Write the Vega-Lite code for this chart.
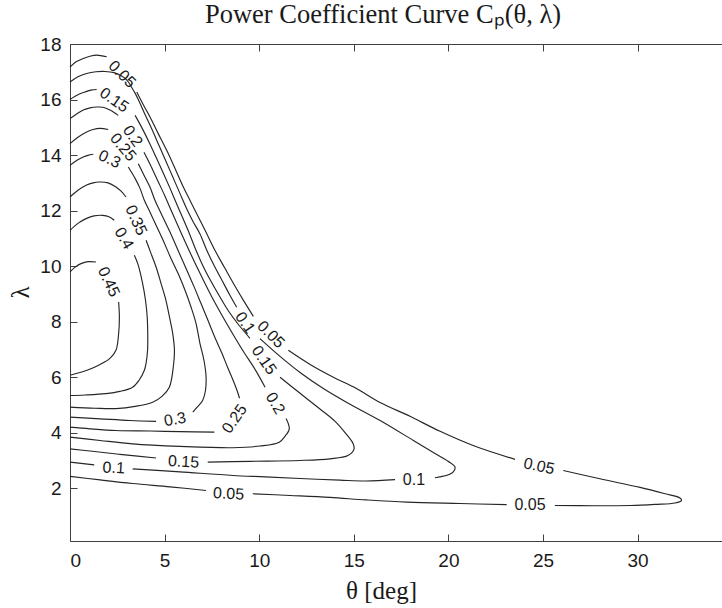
{
"$schema": "https://vega.github.io/schema/vega-lite/v6.json",
"autosize": {"type": "none"},
"padding": {"left": 70, "top": 44, "right": 0, "bottom": 67},
"width": 652,
"height": 497,
"background": "white",
"title": {"text": "Power Coefficient Curve Cₚ(θ, λ)", "font": "Liberation Serif", "fontSize": 26.5, "fontWeight": "normal", "color": "#1a1a1a", "anchor": "middle", "dx": -13, "offset": -14, "baseline": "alphabetic"},
"config": {
 "view": {"stroke": null},
 "axis": {"grid": false, "domainColor": "#404040", "tickColor": "#404040", "domainWidth": 1, "tickWidth": 1, "labelFont": "Liberation Sans", "labelFontSize": 19, "labelColor": "#1a1a1a", "titleFont": "Liberation Serif", "titleFontSize": 25, "titleFontWeight": "normal", "titleColor": "#1a1a1a", "tickSize": -7}
},
"resolve": {"axis": {"x": "independent", "y": "independent"}},
"layer": [
{
 "data": {"values": [
{"s":"05A","i":0,"t":0,"l":17.17},{"s":"05A","i":1,"t":0.32,"l":17.36},{"s":"05A","i":2,"t":0.70,"l":17.48},{"s":"05A","i":3,"t":1.06,"l":17.56},{"s":"05A","i":4,"t":1.41,"l":17.60},{"s":"05A","i":5,"t":1.94,"l":17.54},
{"s":"05B","i":0,"t":3.53,"l":16.27},{"s":"05B","i":1,"t":3.86,"l":15.83},{"s":"05B","i":2,"t":4.23,"l":15.37},{"s":"05B","i":3,"t":4.65,"l":14.79},{"s":"05B","i":4,"t":5.11,"l":14.17},{"s":"05B","i":5,"t":5.55,"l":13.52},{"s":"05B","i":6,"t":5.99,"l":12.85},{"s":"05B","i":7,"t":6.34,"l":12.37},{"s":"05B","i":8,"t":6.71,"l":11.87},{"s":"05B","i":9,"t":7.19,"l":11.22},{"s":"05B","i":10,"t":7.66,"l":10.57},{"s":"05B","i":11,"t":8.19,"l":9.92},{"s":"05B","i":12,"t":8.67,"l":9.34},{"s":"05B","i":13,"t":9.20,"l":8.73},{"s":"05B","i":14,"t":9.69,"l":8.19},
{"s":"05C","i":0,"t":11.54,"l":6.97},{"s":"05C","i":1,"t":12.69,"l":6.46},{"s":"05C","i":2,"t":13.92,"l":6.00},{"s":"05C","i":3,"t":15.12,"l":5.60},{"s":"05C","i":4,"t":16.39,"l":5.09},{"s":"05C","i":5,"t":17.97,"l":4.59},{"s":"05C","i":6,"t":19.56,"l":4.05},{"s":"05C","i":7,"t":21.41,"l":3.51},{"s":"05C","i":8,"t":23.52,"l":3.04},
{"s":"05D","i":0,"t":26.07,"l":2.64},{"s":"05D","i":1,"t":28.01,"l":2.34},{"s":"05D","i":2,"t":30.13,"l":2.03},{"s":"05D","i":3,"t":31.45,"l":1.80},{"s":"05D","i":4,"t":32.24,"l":1.65},{"s":"05D","i":5,"t":32.32,"l":1.56},{"s":"05D","i":6,"t":31.98,"l":1.47},{"s":"05D","i":7,"t":30.92,"l":1.42},{"s":"05D","i":8,"t":29.60,"l":1.38},{"s":"05D","i":9,"t":27.75,"l":1.37},{"s":"05D","i":10,"t":25.63,"l":1.38},
{"s":"05E","i":0,"t":23.08,"l":1.41},{"s":"05E","i":1,"t":20.61,"l":1.45},{"s":"05E","i":2,"t":17.80,"l":1.50},{"s":"05E","i":3,"t":15.65,"l":1.58},{"s":"05E","i":4,"t":13.74,"l":1.67},{"s":"05E","i":5,"t":11.63,"l":1.74},{"s":"05E","i":6,"t":9.66,"l":1.80},
{"s":"05F","i":0,"t":7.19,"l":1.92},{"s":"05F","i":1,"t":5.29,"l":2.05},{"s":"05F","i":2,"t":3.31,"l":2.17},{"s":"05F","i":3,"t":1.59,"l":2.30},{"s":"05F","i":4,"t":0,"l":2.43},
{"s":"10A","i":0,"t":0,"l":16.63},{"s":"10A","i":1,"t":0.42,"l":16.82},{"s":"10A","i":2,"t":0.88,"l":16.94},{"s":"10A","i":3,"t":1.37,"l":17.00},{"s":"10A","i":4,"t":1.85,"l":17.01},{"s":"10A","i":5,"t":2.33,"l":16.97},{"s":"10A","i":6,"t":2.75,"l":16.84},{"s":"10A","i":7,"t":3.01,"l":16.70},{"s":"10A","i":8,"t":3.22,"l":16.48},{"s":"10A","i":9,"t":3.44,"l":16.23},{"s":"10A","i":10,"t":3.65,"l":15.94},{"s":"10A","i":11,"t":3.96,"l":15.47},{"s":"10A","i":12,"t":4.33,"l":14.93},{"s":"10A","i":13,"t":4.70,"l":14.35},{"s":"10A","i":14,"t":5.07,"l":13.78},{"s":"10A","i":15,"t":5.44,"l":13.20},{"s":"10A","i":16,"t":5.81,"l":12.62},{"s":"10A","i":17,"t":6.18,"l":12.05},{"s":"10A","i":18,"t":6.50,"l":11.61},{"s":"10A","i":19,"t":6.87,"l":11.16},{"s":"10A","i":20,"t":7.23,"l":10.57},{"s":"10A","i":21,"t":7.61,"l":10.03},{"s":"10A","i":22,"t":8.03,"l":9.49},{"s":"10A","i":23,"t":8.43,"l":8.98},{"s":"10A","i":24,"t":8.81,"l":8.52},
{"s":"10B","i":0,"t":10.04,"l":7.39},{"s":"10B","i":1,"t":11.10,"l":6.75},{"s":"10B","i":2,"t":12.16,"l":6.17},{"s":"10B","i":3,"t":13.37,"l":5.60},{"s":"10B","i":4,"t":14.63,"l":5.09},{"s":"10B","i":5,"t":16.39,"l":4.44},{"s":"10B","i":6,"t":18.15,"l":3.72},{"s":"10B","i":7,"t":19.29,"l":3.25},{"s":"10B","i":8,"t":19.98,"l":2.97},{"s":"10B","i":9,"t":20.35,"l":2.76},{"s":"10B","i":10,"t":20.19,"l":2.55},{"s":"10B","i":11,"t":19.29,"l":2.38},
{"s":"10C","i":0,"t":17.18,"l":2.31},{"s":"10C","i":1,"t":15.65,"l":2.26},{"s":"10C","i":2,"t":14.27,"l":2.29},{"s":"10C","i":3,"t":12.16,"l":2.35},{"s":"10C","i":4,"t":10.31,"l":2.41},{"s":"10C","i":5,"t":8.60,"l":2.46},{"s":"10C","i":6,"t":5.81,"l":2.59},{"s":"10C","i":7,"t":3.31,"l":2.70},
{"s":"10D","i":0,"t":1.28,"l":2.84},{"s":"10D","i":1,"t":0,"l":2.94},
{"s":"15A","i":0,"t":0,"l":16.00},{"s":"15A","i":1,"t":0.42,"l":16.17},{"s":"15A","i":2,"t":0.79,"l":16.27},{"s":"15A","i":3,"t":1.11,"l":16.34},{"s":"15A","i":4,"t":1.41,"l":16.36},
{"s":"15B","i":0,"t":3.44,"l":15.43},{"s":"15B","i":1,"t":3.81,"l":14.97},{"s":"15B","i":2,"t":4.18,"l":14.46},{"s":"15B","i":3,"t":4.55,"l":13.92},{"s":"15B","i":4,"t":4.94,"l":13.34},{"s":"15B","i":5,"t":5.29,"l":12.80},{"s":"15B","i":6,"t":5.60,"l":12.30},{"s":"15B","i":7,"t":5.92,"l":11.80},{"s":"15B","i":8,"t":6.24,"l":11.29},{"s":"15B","i":9,"t":6.66,"l":10.57},{"s":"15B","i":10,"t":7.14,"l":9.85},{"s":"15B","i":11,"t":7.72,"l":9.13},{"s":"15B","i":12,"t":8.35,"l":8.41},{"s":"15B","i":13,"t":8.93,"l":7.87},{"s":"15B","i":14,"t":9.51,"l":7.40},
{"s":"15C","i":0,"t":11.10,"l":6.00},{"s":"15C","i":1,"t":12.16,"l":5.42},{"s":"15C","i":2,"t":13.18,"l":4.87},{"s":"15C","i":3,"t":14.01,"l":4.41},{"s":"15C","i":4,"t":14.59,"l":3.96},{"s":"15C","i":5,"t":14.96,"l":3.61},{"s":"15C","i":6,"t":15.01,"l":3.40},{"s":"15C","i":7,"t":14.69,"l":3.18},{"s":"15C","i":8,"t":13.74,"l":3.06},{"s":"15C","i":9,"t":12.12,"l":3.00},{"s":"15C","i":10,"t":9.51,"l":2.97},{"s":"15C","i":11,"t":7.28,"l":2.94},
{"s":"15D","i":0,"t":4.55,"l":3.09},{"s":"15D","i":1,"t":2.64,"l":3.22},{"s":"15D","i":2,"t":1.06,"l":3.34},{"s":"15D","i":3,"t":0,"l":3.42},
{"s":"20A","i":0,"t":0,"l":15.32},{"s":"20A","i":1,"t":0.37,"l":15.49},{"s":"20A","i":2,"t":0.70,"l":15.62},{"s":"20A","i":3,"t":1.06,"l":15.70},{"s":"20A","i":4,"t":1.41,"l":15.73},{"s":"20A","i":5,"t":1.74,"l":15.72},{"s":"20A","i":6,"t":2.11,"l":15.62},{"s":"20A","i":7,"t":2.55,"l":15.43},
{"s":"20B","i":0,"t":3.91,"l":14.10},{"s":"20B","i":1,"t":4.28,"l":13.60},{"s":"20B","i":2,"t":4.65,"l":13.06},{"s":"20B","i":3,"t":5.02,"l":12.52},{"s":"20B","i":4,"t":5.39,"l":11.94},{"s":"20B","i":5,"t":5.81,"l":11.29},{"s":"20B","i":6,"t":6.29,"l":10.57},{"s":"20B","i":7,"t":6.87,"l":9.74},{"s":"20B","i":8,"t":7.45,"l":8.95},{"s":"20B","i":9,"t":8.03,"l":8.23},{"s":"20B","i":10,"t":8.62,"l":7.54},{"s":"20B","i":11,"t":9.20,"l":6.89},{"s":"20B","i":12,"t":9.78,"l":6.28},{"s":"20B","i":13,"t":10.31,"l":5.64},
{"s":"20C","i":0,"t":11.42,"l":4.51},{"s":"20C","i":1,"t":11.59,"l":4.14},{"s":"20C","i":2,"t":11.36,"l":3.87},{"s":"20C","i":3,"t":11.06,"l":3.66},{"s":"20C","i":4,"t":10.04,"l":3.52},{"s":"20C","i":5,"t":8.60,"l":3.46},{"s":"20C","i":6,"t":5.81,"l":3.51},{"s":"20C","i":7,"t":3.31,"l":3.60},{"s":"20C","i":8,"t":1.59,"l":3.72},{"s":"20C","i":9,"t":0,"l":3.84},
{"s":"25A","i":0,"t":0,"l":14.41},{"s":"25A","i":1,"t":0.42,"l":14.64},{"s":"25A","i":2,"t":0.88,"l":14.83},{"s":"25A","i":3,"t":1.22,"l":14.92},{"s":"25A","i":4,"t":1.59,"l":14.96},{"s":"25A","i":5,"t":2.02,"l":14.92},
{"s":"25B","i":0,"t":3.61,"l":13.69},{"s":"25B","i":1,"t":3.91,"l":13.27},{"s":"25B","i":2,"t":4.23,"l":12.84},{"s":"25B","i":3,"t":4.49,"l":12.37},{"s":"25B","i":4,"t":4.86,"l":11.83},{"s":"25B","i":5,"t":5.29,"l":11.22},{"s":"25B","i":6,"t":5.71,"l":10.57},{"s":"25B","i":7,"t":6.13,"l":9.92},{"s":"25B","i":8,"t":6.55,"l":9.27},{"s":"25B","i":9,"t":6.92,"l":8.66},{"s":"25B","i":10,"t":7.29,"l":8.05},{"s":"25B","i":11,"t":7.66,"l":7.43},{"s":"25B","i":12,"t":8.03,"l":6.86},{"s":"25B","i":13,"t":8.35,"l":6.32},{"s":"25B","i":14,"t":8.62,"l":5.89},{"s":"25B","i":15,"t":8.83,"l":5.52},{"s":"25B","i":16,"t":8.96,"l":5.24},
{"s":"25C","i":0,"t":7.63,"l":4.02},{"s":"25C","i":1,"t":5.81,"l":4.04},{"s":"25C","i":2,"t":4.23,"l":4.06},{"s":"25C","i":3,"t":2.43,"l":4.08},{"s":"25C","i":4,"t":1.06,"l":4.14},{"s":"25C","i":5,"t":0,"l":4.20},
{"s":"30A","i":0,"t":0,"l":13.63},{"s":"30A","i":1,"t":0.37,"l":13.81},{"s":"30A","i":2,"t":0.70,"l":13.93},{"s":"30A","i":3,"t":0.95,"l":13.99},{"s":"30A","i":4,"t":1.23,"l":14.03},
{"s":"30B","i":0,"t":3.08,"l":13.57},{"s":"30B","i":1,"t":3.44,"l":13.16},{"s":"30B","i":2,"t":3.70,"l":12.80},{"s":"30B","i":3,"t":3.93,"l":12.37},{"s":"30B","i":4,"t":4.23,"l":11.94},{"s":"30B","i":5,"t":4.55,"l":11.47},{"s":"30B","i":6,"t":4.92,"l":10.93},{"s":"30B","i":7,"t":5.29,"l":10.35},{"s":"30B","i":8,"t":5.71,"l":9.74},{"s":"30B","i":9,"t":6.08,"l":9.13},{"s":"30B","i":10,"t":6.40,"l":8.52},{"s":"30B","i":11,"t":6.66,"l":7.94},{"s":"30B","i":12,"t":6.87,"l":7.21},{"s":"30B","i":13,"t":7.08,"l":6.61},{"s":"30B","i":14,"t":7.19,"l":6.03},{"s":"30B","i":15,"t":7.16,"l":5.52},{"s":"30B","i":16,"t":7.01,"l":5.16},{"s":"30B","i":17,"t":6.71,"l":4.91},{"s":"30B","i":18,"t":6.49,"l":4.74},
{"s":"30C","i":0,"t":4.55,"l":4.41},{"s":"30C","i":1,"t":3.17,"l":4.44},{"s":"30C","i":2,"t":1.59,"l":4.50},{"s":"30C","i":3,"t":0,"l":4.56},
{"s":"35A","i":0,"t":0,"l":12.49},{"s":"35A","i":1,"t":0.42,"l":12.73},{"s":"35A","i":2,"t":0.85,"l":12.91},{"s":"35A","i":3,"t":1.22,"l":13.00},{"s":"35A","i":4,"t":1.55,"l":13.03},{"s":"35A","i":5,"t":2.01,"l":13.00},{"s":"35A","i":6,"t":2.43,"l":12.85},{"s":"35A","i":7,"t":2.70,"l":12.70},{"s":"35A","i":8,"t":2.96,"l":12.49},
{"s":"35B","i":0,"t":4.02,"l":10.93},{"s":"35B","i":1,"t":4.28,"l":10.46},{"s":"35B","i":2,"t":4.55,"l":9.97},{"s":"35B","i":3,"t":4.81,"l":9.38},{"s":"35B","i":4,"t":5.07,"l":8.77},{"s":"35B","i":5,"t":5.26,"l":8.16},{"s":"35B","i":6,"t":5.43,"l":7.57},{"s":"35B","i":7,"t":5.52,"l":6.97},{"s":"35B","i":8,"t":5.47,"l":6.43},{"s":"35B","i":9,"t":5.25,"l":5.64},{"s":"35B","i":10,"t":4.86,"l":5.31},{"s":"35B","i":11,"t":4.37,"l":5.10},{"s":"35B","i":12,"t":3.44,"l":4.95},{"s":"35B","i":13,"t":2.43,"l":4.87},{"s":"35B","i":14,"t":1.32,"l":4.88},{"s":"35B","i":15,"t":0,"l":4.92},
{"s":"40A","i":0,"t":0,"l":11.29},{"s":"40A","i":1,"t":0.42,"l":11.54},{"s":"40A","i":2,"t":0.85,"l":11.71},{"s":"40A","i":3,"t":1.27,"l":11.81},{"s":"40A","i":4,"t":1.73,"l":11.83},{"s":"40A","i":5,"t":2.06,"l":11.78},{"s":"40A","i":6,"t":2.34,"l":11.65},
{"s":"40B","i":0,"t":3.40,"l":10.39},{"s":"40B","i":1,"t":3.59,"l":10.07},{"s":"40B","i":2,"t":3.84,"l":9.37},{"s":"40B","i":3,"t":3.99,"l":8.77},{"s":"40B","i":4,"t":4.08,"l":8.17},{"s":"40B","i":5,"t":4.11,"l":7.51},{"s":"40B","i":6,"t":4.10,"l":6.97},{"s":"40B","i":7,"t":4.02,"l":6.50},{"s":"40B","i":8,"t":3.93,"l":6.25},{"s":"40B","i":9,"t":3.65,"l":5.89},{"s":"40B","i":10,"t":3.31,"l":5.64},{"s":"40B","i":11,"t":2.64,"l":5.49},{"s":"40B","i":12,"t":1.90,"l":5.41},{"s":"40B","i":13,"t":0.79,"l":5.36},{"s":"40B","i":14,"t":0,"l":5.34},
{"s":"45A","i":0,"t":0,"l":9.79},{"s":"45A","i":1,"t":0.32,"l":9.99},{"s":"45A","i":2,"t":0.58,"l":10.09},{"s":"45A","i":3,"t":0.95,"l":10.16},{"s":"45A","i":4,"t":1.37,"l":10.15},
{"s":"45B","i":0,"t":2.57,"l":8.71},{"s":"45B","i":1,"t":2.61,"l":8.17},{"s":"45B","i":2,"t":2.57,"l":7.57},{"s":"45B","i":3,"t":2.43,"l":6.97},{"s":"45B","i":4,"t":2.11,"l":6.68},{"s":"45B","i":5,"t":1.59,"l":6.46},{"s":"45B","i":6,"t":0.90,"l":6.25},{"s":"45B","i":7,"t":0.05,"l":6.08},{"s":"45B","i":8,"t":0,"l":6.07}
 ]},
 "mark": {"type": "line", "interpolate": "catmull-rom", "color": "#262626", "strokeWidth": 1.15},
 "encoding": {
  "x": {"field": "t", "type": "quantitative", "scale": {"domain": [0, 34.46], "nice": false, "zero": false}, "axis": {"orient": "bottom", "values": [0,5,10,15,20,25,30], "title": "θ [deg]", "labelPadding": 17, "titleX": 311, "titleY": 49, "titleBaseline": "middle", "titleAlign": "center"}},
  "y": {"field": "l", "type": "quantitative", "scale": {"domain": [0.1, 18], "nice": false, "zero": false}, "axis": {"orient": "left", "values": [2,4,6,8,10,12,14,16,18], "title": "λ", "labelPadding": 16, "titleX": -50, "titleY": 248, "titleBaseline": "middle", "titleAlign": "center", "titleAngle": -90}},
  "detail": {"field": "s"},
  "order": {"field": "i", "type": "quantitative"}
 }
},
{
 "data": {"values": [{"t": 0}]},
 "mark": {"type": "point", "opacity": 0},
 "encoding": {
  "x": {"field": "t", "type": "quantitative", "scale": {"domain": [0, 34.46], "nice": false, "zero": false}, "axis": {"orient": "top", "values": [0,5,10,15,20,25,30], "labels": false, "title": null}}
 }
},
{
 "data": {"values": [{"t":2.75,"l":16.91,"txt":"0.05"},{"t":10.61,"l":7.54,"txt":"0.05"}]},
 "mark": {"type": "text", "angle": 45, "font": "Liberation Sans", "fontSize": 16, "color": "#1a1a1a", "align": "center", "baseline": "middle"},
 "encoding": {"x": {"field": "t", "type": "quantitative", "scale": {"domain": [0, 34.46], "nice": false, "zero": false}, "axis": null}, "y": {"field": "l", "type": "quantitative", "scale": {"domain": [0.1, 18], "nice": false, "zero": false}, "axis": null}, "text": {"field": "txt"}}
},
{
 "data": {"values": [{"t":2.33,"l":15.98,"txt":"0.15"}]},
 "mark": {"type": "text", "angle": 35, "font": "Liberation Sans", "fontSize": 16, "color": "#1a1a1a", "align": "center", "baseline": "middle"},
 "encoding": {"x": {"field": "t", "type": "quantitative", "scale": {"domain": [0, 34.46], "nice": false, "zero": false}, "axis": null}, "y": {"field": "l", "type": "quantitative", "scale": {"domain": [0.1, 18], "nice": false, "zero": false}, "axis": null}, "text": {"field": "txt"}}
},
{
 "data": {"values": [{"t":3.31,"l":14.68,"txt":"0.2"},{"t":9.25,"l":7.96,"txt":"0.1"},{"t":10.25,"l":6.61,"txt":"0.15"}]},
 "mark": {"type": "text", "angle": 55, "font": "Liberation Sans", "fontSize": 16, "color": "#1a1a1a", "align": "center", "baseline": "middle"},
 "encoding": {"x": {"field": "t", "type": "quantitative", "scale": {"domain": [0, 34.46], "nice": false, "zero": false}, "axis": null}, "y": {"field": "l", "type": "quantitative", "scale": {"domain": [0.1, 18], "nice": false, "zero": false}, "axis": null}, "text": {"field": "txt"}}
},
{
 "data": {"values": [{"t":2.80,"l":14.28,"txt":"0.25"}]},
 "mark": {"type": "text", "angle": 50, "font": "Liberation Sans", "fontSize": 16, "color": "#1a1a1a", "align": "center", "baseline": "middle"},
 "encoding": {"x": {"field": "t", "type": "quantitative", "scale": {"domain": [0, 34.46], "nice": false, "zero": false}, "axis": null}, "y": {"field": "l", "type": "quantitative", "scale": {"domain": [0.1, 18], "nice": false, "zero": false}, "axis": null}, "text": {"field": "txt"}}
},
{
 "data": {"values": [{"t":2.09,"l":13.85,"txt":"0.3"}]},
 "mark": {"type": "text", "angle": 25, "font": "Liberation Sans", "fontSize": 16, "color": "#1a1a1a", "align": "center", "baseline": "middle"},
 "encoding": {"x": {"field": "t", "type": "quantitative", "scale": {"domain": [0, 34.46], "nice": false, "zero": false}, "axis": null}, "y": {"field": "l", "type": "quantitative", "scale": {"domain": [0.1, 18], "nice": false, "zero": false}, "axis": null}, "text": {"field": "txt"}}
},
{
 "data": {"values": [{"t":3.49,"l":11.65,"txt":"0.35"},{"t":2.04,"l":9.43,"txt":"0.45"}]},
 "mark": {"type": "text", "angle": 65, "font": "Liberation Sans", "fontSize": 16, "color": "#1a1a1a", "align": "center", "baseline": "middle"},
 "encoding": {"x": {"field": "t", "type": "quantitative", "scale": {"domain": [0, 34.46], "nice": false, "zero": false}, "axis": null}, "y": {"field": "l", "type": "quantitative", "scale": {"domain": [0.1, 18], "nice": false, "zero": false}, "axis": null}, "text": {"field": "txt"}}
},
{
 "data": {"values": [{"t":2.85,"l":11.00,"txt":"0.4"},{"t":10.84,"l":5.06,"txt":"0.2"}]},
 "mark": {"type": "text", "angle": 60, "font": "Liberation Sans", "fontSize": 16, "color": "#1a1a1a", "align": "center", "baseline": "middle"},
 "encoding": {"x": {"field": "t", "type": "quantitative", "scale": {"domain": [0, 34.46], "nice": false, "zero": false}, "axis": null}, "y": {"field": "l", "type": "quantitative", "scale": {"domain": [0.1, 18], "nice": false, "zero": false}, "axis": null}, "text": {"field": "txt"}}
},
{
 "data": {"values": [{"t":8.70,"l":4.50,"txt":"0.25"}]},
 "mark": {"type": "text", "angle": -55, "font": "Liberation Sans", "fontSize": 16, "color": "#1a1a1a", "align": "center", "baseline": "middle"},
 "encoding": {"x": {"field": "t", "type": "quantitative", "scale": {"domain": [0, 34.46], "nice": false, "zero": false}, "axis": null}, "y": {"field": "l", "type": "quantitative", "scale": {"domain": [0.1, 18], "nice": false, "zero": false}, "axis": null}, "text": {"field": "txt"}}
},
{
 "data": {"values": [{"t":5.55,"l":4.48,"txt":"0.3"}]},
 "mark": {"type": "text", "angle": -10, "font": "Liberation Sans", "fontSize": 16, "color": "#1a1a1a", "align": "center", "baseline": "middle"},
 "encoding": {"x": {"field": "t", "type": "quantitative", "scale": {"domain": [0, 34.46], "nice": false, "zero": false}, "axis": null}, "y": {"field": "l", "type": "quantitative", "scale": {"domain": [0.1, 18], "nice": false, "zero": false}, "axis": null}, "text": {"field": "txt"}}
},
{
 "data": {"values": [{"t":6.00,"l":2.95,"txt":"0.15"},{"t":2.31,"l":2.73,"txt":"0.1"},{"t":8.38,"l":1.80,"txt":"0.05"}]},
 "mark": {"type": "text", "angle": 3, "font": "Liberation Sans", "fontSize": 16, "color": "#1a1a1a", "align": "center", "baseline": "middle"},
 "encoding": {"x": {"field": "t", "type": "quantitative", "scale": {"domain": [0, 34.46], "nice": false, "zero": false}, "axis": null}, "y": {"field": "l", "type": "quantitative", "scale": {"domain": [0.1, 18], "nice": false, "zero": false}, "axis": null}, "text": {"field": "txt"}}
},
{
 "data": {"values": [{"t":18.18,"l":2.28,"txt":"0.1"},{"t":24.31,"l":1.38,"txt":"0.05"}]},
 "mark": {"type": "text", "angle": 0, "font": "Liberation Sans", "fontSize": 16, "color": "#1a1a1a", "align": "center", "baseline": "middle"},
 "encoding": {"x": {"field": "t", "type": "quantitative", "scale": {"domain": [0, 34.46], "nice": false, "zero": false}, "axis": null}, "y": {"field": "l", "type": "quantitative", "scale": {"domain": [0.1, 18], "nice": false, "zero": false}, "axis": null}, "text": {"field": "txt"}}
},
{
 "data": {"values": [{"t":24.79,"l":2.79,"txt":"0.05"}]},
 "mark": {"type": "text", "angle": 12, "font": "Liberation Sans", "fontSize": 16, "color": "#1a1a1a", "align": "center", "baseline": "middle"},
 "encoding": {"x": {"field": "t", "type": "quantitative", "scale": {"domain": [0, 34.46], "nice": false, "zero": false}, "axis": null}, "y": {"field": "l", "type": "quantitative", "scale": {"domain": [0.1, 18], "nice": false, "zero": false}, "axis": null}, "text": {"field": "txt"}}
}
]
}
